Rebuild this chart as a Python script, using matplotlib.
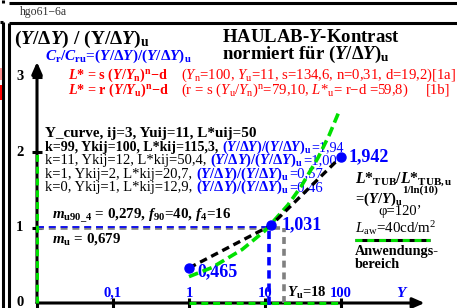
import matplotlib
matplotlib.use("Agg")
import matplotlib.pyplot as plt
from matplotlib.lines import Line2D

# ---------------------------------------------------------------
# data
# ---------------------------------------------------------------
POINT_Y = [1, 12, 100]                 # Ykij of the marked samples
POINT_RATIO = [0.465, 1.031, 1.942]    # (Y/dY)/(Y/dY)u
POINT_LABELS = ["0,465", "1,031", "1,942"]

GREEN_Y = [1, 2, 5, 10, 20, 30, 50, 70, 95]
GREEN_RATIO = [0.35, 0.47, 0.71, 0.96, 1.30, 1.55, 1.93, 2.23, 2.55]

Y_U = 18                               # Yu marker on the Y axis
X_TICKS = [0.1, 1, 10, 100]
X_TICK_LABELS = ["0,1", "1", "10", "100"]
Y_TICKS = [0, 1, 2, 3]
RANGE_Y = [1, 100]                     # application range on the Y axis
RANGE_RATIO = [0, 2]                   # application range on the ratio axis

K_LINES = [
    ("k=99, Ykij=100, L*kij=115,3, ", "1,94", "bold"),
    ("k=11, Ykij=12, L*kij=50,4, ", "1,00", "normal"),
    ("k=1, Ykij=2, L*kij=20,7, ", "0,57", "normal"),
    ("k=0, Ykij=1, L*kij=12,9, ", "0,46", "normal"),
]

# ---------------------------------------------------------------
W, H = 457, 308
RED, BLUE, GREEN, GREY = "#ff0000", "#0000ff", "#00e000", "#808080"

plt.rcParams["lines.scale_dashes"] = False
plt.rcParams["mathtext.fontset"] = "custom"
plt.rcParams["mathtext.rm"] = "Liberation Serif"
plt.rcParams["mathtext.it"] = "Liberation Serif:italic"
plt.rcParams["mathtext.bf"] = "Liberation Serif:bold"
plt.rcParams["mathtext.sf"] = "Liberation Serif:italic:bold"   # bold italic

fig = plt.figure(figsize=(W / 100, H / 100), dpi=100)
fig.patch.set_facecolor("white")
ax = fig.add_axes([37 / W, 5 / H, 380 / W, 226 / H])
ax.set_xscale("log")
ax.set_xlim(0.01, 1000)
ax.set_ylim(0, 3)
ax.axis("off")


def fx(x):
    return x / W


def fy(y):
    return 1 - y / H


def put(x, y, s, size=9.5, color="k", weight="normal", **kw):
    return ax.text(fx(x), fy(y), s, transform=fig.transFigure, zorder=1,
                   family="Liberation Serif", fontsize=size, color=color,
                   fontweight=weight, va=kw.pop("va", "baseline"), **kw)


def chain(x, y, parts):
    renderer = fig.canvas.get_renderer()
    for s, kw in parts:
        t = put(x, y, s, **kw)
        x = t.get_window_extent(renderer).x1
    return x


# --- frame ------------------------------------------------------
def fline(xs, ys, color="k", lw=2.2):
    fig.add_artist(Line2D([fx(v) for v in xs], [fy(v) for v in ys],
                          color=color, lw=lw, solid_capstyle="butt"))


fline([9, W], [3, 3])
fline([3, 3], [0, 3])
fline([9, W], [23, 23])
fline([0, 3], [22, 22])
fline([3, 3], [22, H])
fline([9, 9], [23, H])
fline([1, 1], [68, 80], color="#ff9090", lw=1.5)
fline([1, 1], [85, 100], color=RED, lw=1.5)

# --- axes -------------------------------------------------------
arrow = dict(arrowstyle="-|>,head_length=0.5,head_width=0.22", color="k",
             lw=2.2, shrinkA=0, shrinkB=0, mutation_scale=14)
ax.annotate("", xy=(10 ** 3.1, 0), xytext=(0.01, 0), arrowprops=arrow,
            annotation_clip=False, zorder=2)
ax.annotate("", xy=(0.01, 3.2), xytext=(0.01, 0), arrowprops=arrow,
            annotation_clip=False, zorder=2)
ax.plot([0.01] + X_TICKS, [0] * (len(X_TICKS) + 1), ls="none", marker="|",
        ms=7, mew=2.2, color="k", clip_on=False, zorder=3)
ax.plot([0.01] * 3, Y_TICKS[1:], ls="none", marker="_", ms=7, mew=2.2,
        color="k", clip_on=False, zorder=3)
ax.plot([0.01, 0.01], RANGE_RATIO, color=GREEN, lw=2.2, dashes=(5, 3.5),
        clip_on=False, zorder=4)
ax.plot(RANGE_Y, [0, 0], color=GREEN, lw=2.2, dashes=(5, 3.5),
        clip_on=False, zorder=4)

# --- guide lines ------------------------------------------------
ax.plot([0.01, Y_U], [1, 1], color=GREY, lw=2.6, dashes=(5, 3.5), zorder=3,
        clip_on=False)
ax.plot([0.01, POINT_Y[1]], [1.008, 1.008], color=BLUE, lw=1.2,
        dashes=(5, 3.5), zorder=3, clip_on=False)
ax.plot([Y_U, Y_U], [0, 1], color=GREY, lw=2.6, dashes=(5, 3.5), zorder=3,
        clip_on=False)
ax.plot([POINT_Y[1] * 0.95] * 2, [-0.03, POINT_RATIO[1]], color=BLUE, lw=2.6,
        dashes=(6, 3.5), zorder=3, clip_on=False)

# --- curves -----------------------------------------------------
ax.plot(GREEN_Y, GREEN_RATIO, color=GREEN, lw=2.6, dashes=(7, 3.5), zorder=5)
ax.plot(POINT_Y, POINT_RATIO, color="k", lw=2.4, dashes=(5.5, 3.5), zorder=5)
ax.plot(POINT_Y, POINT_RATIO, ls="none", marker="o", ms=6.5, color=BLUE,
        zorder=6)

# --- texts ------------------------------------------------------
put(20, 15, "hgo61\u22126a", size=8.5, color="#333333")
put(14, 44, r"($\mathsf{Y}$/Δ$\mathsf{Y}$) / (Y/Δ$\mathsf{Y}$)$_\mathbf{u}$",
    size=14, weight="bold")
put(45, 60, r"$\mathsf{C}_\mathbf{r}$/$\mathsf{C}_\mathbf{ru}$=($\mathsf{Y}$/Δ"
    r"$\mathsf{Y}$)/($\mathsf{Y}$/Δ$\mathsf{Y}$)$_\mathbf{u}$",
    size=11, weight="bold", color=BLUE)
put(222, 42, r"HAULAB-$\mathsf{Y}$-Kontrast", size=13.5, weight="bold")
put(222, 59, r"normiert für ($\mathsf{Y}$/Δ$\mathsf{Y}$)$_\mathbf{u}$",
    size=13.5, weight="bold")

put(68, 79, r"$\mathsf{L}$* = s ($\mathsf{Y}$/$\mathsf{Y}_\mathbf{n}$)"
    r"$^\mathbf{n}$" "\u2212d", size=10.2, weight="bold", color=RED)
put(181, 79, r"($\mathit{Y}_\mathrm{n}$=100, $\mathit{Y}_\mathrm{u}$=11, "
    "s=134,6, n=0,31, d=19,2)[1a]", size=10.6, color=RED)
put(68, 94, r"$\mathsf{L}$* = r ($\mathsf{Y}$/$\mathsf{Y}_\mathbf{u}$)"
    r"$^\mathbf{n}$" "\u2212d", size=10.2, weight="bold", color=RED)
put(181, 94, r"(r = s ($\mathit{Y}_\mathrm{u}$/$\mathit{Y}_\mathrm{n}$)"
    r"$^\mathrm{n}$=79,10, $\mathit{L}$*$_\mathrm{u}$= r" "\u2212d =59,8)",
    size=10.6, color=RED)
put(426, 94, "[1b]", size=10.6, color=RED)

put(45, 137, "Y_curve, ij=3, Yuij=11, L*uij=50", size=10.9, weight="bold")
ratio_txt = r"($\mathsf{Y}$/Δ$\mathsf{Y}$)/($\mathsf{Y}$/Δ$\mathsf{Y}$)$_\mathbf{u}$"
for i, (head, val, w) in enumerate(K_LINES):
    yb = 151 + 13.3 * i
    fs = 10.1 if w == "bold" else 10.5
    chain(45, yb, [(head, dict(size=fs, weight=w)),
                   (ratio_txt, dict(size=fs, weight="bold", color=BLUE)),
                   ("=" + val, dict(size=fs, color=BLUE))])

put(52, 219, r"$\mathsf{m}_\mathbf{u90\_4}$ = 0,279, $\mathsf{f}_\mathbf{90}$=40, "
    r"$\mathsf{f}_\mathbf{4}$=16", size=10.8, weight="bold")
put(52, 243, r"$\mathsf{m}_\mathbf{u}$ = 0,679", size=10.8, weight="bold")

offs = [(8, 8), (10, 4), (8, 5)]
for xv, yv, lab, (dx, dy) in zip(POINT_Y, POINT_RATIO, POINT_LABELS, offs):
    ax.annotate(lab, (xv, yv), xytext=(dx, -dy), textcoords="offset pixels",
                fontsize=13, fontweight="bold", color=BLUE,
                family="Liberation Serif", va="baseline", zorder=1)

put(355, 182, r"$\mathsf{L}$*$_\mathbf{TUB}$/$\mathsf{L}$*$_\mathbf{TUB,u}$",
    size=11.3, weight="bold")
put(402, 193, "1/ln(10)", size=7.8, weight="bold")
put(355, 203, r"=($\mathsf{Y}$/$\mathsf{Y}$)$_\mathbf{u}$", size=10.5,
    weight="bold")
put(378, 215, "φ=120’", size=10.5)
put(355, 233, r"$\mathit{L}_\mathrm{aw}$=40cd/m$^\mathrm{2}$", size=10.8)
put(355, 255, "Anwendungs-", size=10.3, weight="bold")
put(355, 268, "bereich", size=10.3, weight="bold")
fline([355, 430], [239.5, 239.5], lw=2.2)
fig.add_artist(Line2D([fx(355), fx(430)], [fy(239.5)] * 2, color=GREEN,
                      lw=2.2, dashes=(5, 3.5)))

for v in Y_TICKS:
    ax.text(-0.045, v, str(v), transform=ax.get_yaxis_transform(),
            ha="center", va="center", fontsize=10.5, fontweight="bold",
            family="Liberation Serif", zorder=1)
for v, lab in zip(X_TICKS, X_TICK_LABELS):
    ax.text(v, 0.027, lab, transform=ax.get_xaxis_transform(), ha="center",
            va="baseline", fontsize=10.5, fontweight="bold", color=BLUE,
            family="Liberation Serif", zorder=1)
put(287, 297, r"$\mathsf{Y}_\mathbf{u}$=18", size=10.5, weight="bold")
put(396, 297, r"$\mathsf{Y}$", size=11, weight="bold", color=BLUE)

fig.savefig("out.png", dpi=100)
